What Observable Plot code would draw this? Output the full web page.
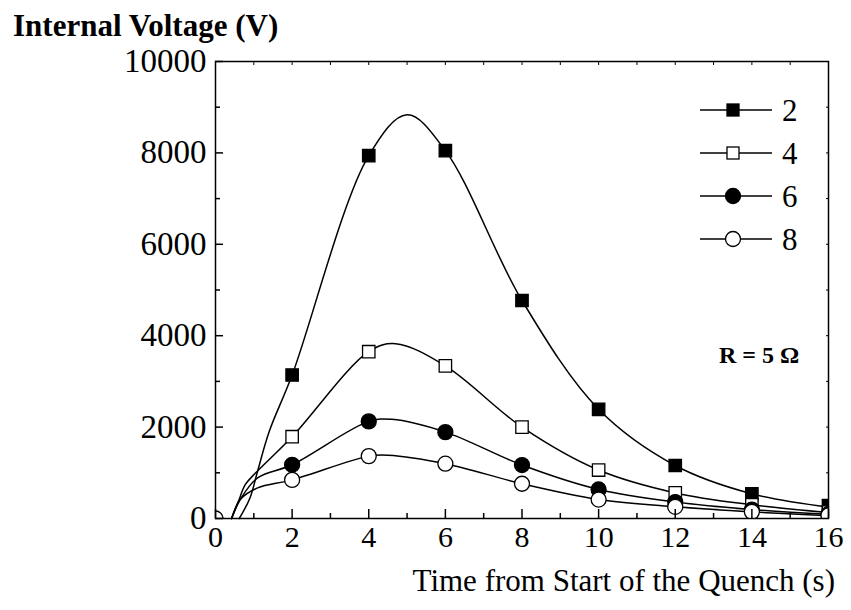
<!DOCTYPE html>
<html><head><meta charset="utf-8">
<script src="https://cdn.jsdelivr.net/npm/d3@7"></script>
<script src="https://cdn.jsdelivr.net/npm/@observablehq/plot@0.6"></script>
<style>body{margin:0;background:#fff} svg{display:block}</style>
</head><body><div id="chart"></div>
<script>
// Series names (legend)
const seriesNames = ["2", "4", "6", "8"];
// Marker data (time in s, internal voltage in V)
const times = [0, 2, 4, 6, 8, 10, 12, 14, 16];
const v2 = [null, 3140, 7940, 8050, 4770, 2390, 1160, 540, 280];
const v4 = [null, 1790, 3650, 3340, 2000, 1060, 560, 300, 140];
const v6 = [null, 1175, 2125, 1890, 1170, 635, 360, 195, 100];
const v8 = [0, 845, 1365, 1200, 760, 415, 255, 145, 70];
// Fitted curve points
const c2t = [0.62, 0.9, 1.1, 1.4, 2, 4, 5, 6, 8, 10, 12, 14, 16];
const c2v = [0, 450, 1040, 1900, 3140, 7940, 8835, 8050, 4770, 2390, 1160, 540, 250];
const c4t = [0.42, 0.6, 0.78, 1.05, 2, 4, 4.7, 6, 8, 10, 12, 14, 16];
const c4v = [0, 380, 745, 1000, 1790, 3650, 3825, 3340, 2000, 1060, 560, 300, 130];
const c6t = [0.42, 0.65, 1.1, 2, 4, 4.6, 6, 8, 10, 12, 14, 16];
const c6v = [0, 420, 890, 1175, 2125, 2170, 1890, 1170, 635, 360, 195, 90];
const c8t = [0.42, 0.65, 1.1, 2, 4, 4.5, 6, 8, 10, 12, 14, 16];
const c8v = [0, 420, 670, 845, 1365, 1385, 1200, 760, 415, 255, 145, 60];
// Axis ticks
const xTicks = [0, 2, 4, 6, 8, 10, 12, 14, 16];
const xMinor = [1, 3, 5, 7, 9, 11, 13, 15];
const xTop = d3.range(0, 17);
const yTicks = [0, 2000, 4000, 6000, 8000, 10000];
const yMinor = [1000, 3000, 5000, 7000, 9000];
const yRight = d3.range(0, 10001, 1000);

const markerVals = [v2, v4, v6, v8];
const curveT = [c2t, c4t, c6t, c8t];
const curveV = [c2v, c4v, c6v, c8v];
const symbols = ["square", "square", "circle", "circle"];
const fills = ["black", "white", "black", "white"];

const marks = [];
seriesNames.forEach((name, i) => {
  const curve = curveT[i].map((t, j) => ({t, v: curveV[i][j]}));
  const pts = times.map((t, j) => ({t, v: markerVals[i][j]})).filter(d => d.v != null);
  marks.push(Plot.line(curve, {x: "t", y: "v", curve: "catmull-rom", stroke: "black", strokeWidth: 1.5}));
  marks.push(Plot.dot(pts, {x: "t", y: "v", symbol: symbols[i], r: symbols[i] === "square" ? 7 : 7.5,
    fill: fills[i], stroke: "black", strokeWidth: 1.3, clip: true}));
});

const noText = () => "";
const chart = Plot.plot({
  width: 851, height: 610,
  marginLeft: 215, marginRight: 23, marginTop: 61, marginBottom: 92,
  style: {fontFamily: "Liberation Serif, Times New Roman, serif", background: "white"},
  x: {domain: [0, 16]},
  y: {domain: [0, 10000]},
  marks: [
    ...marks,
    Plot.frame({stroke: "black", strokeWidth: 1.5}),
    Plot.axisX({ticks: xTicks, tickSize: 0, tickPadding: 7, fontSize: 30, label: null, tickFormat: d => String(d)}),
    Plot.axisX({ticks: xTicks, tickSize: -9, tickFormat: noText, label: null, strokeWidth: 1.5}),
    Plot.axisX({ticks: xMinor, tickSize: -5, tickFormat: noText, label: null, strokeWidth: 1.5}),
    Plot.axisX({anchor: "top", ticks: xTop, tickSize: -3, tickFormat: noText, label: null}),
    Plot.axisY({ticks: yTicks, tickSize: 0, tickPadding: 9, fontSize: 33, label: null, tickFormat: d => String(d)}),
    Plot.axisY({ticks: yTicks, tickSize: -8, tickFormat: noText, label: null, strokeWidth: 1.5}),
    Plot.axisY({ticks: yMinor, tickSize: -5, tickFormat: noText, label: null, strokeWidth: 1.5}),
    Plot.axisY({anchor: "right", ticks: yRight, tickSize: -3, tickFormat: noText, label: null})
  ]
});
document.getElementById("chart").appendChild(chart);

// Titles, legend and annotation
const svg = d3.select(chart);
svg.append("text").attr("x", 13).attr("y", 36).attr("font-size", 31).attr("font-weight", "bold")
  .attr("text-anchor", "start").attr("fill", "black").text("Internal Voltage (V)");
svg.append("text").attr("x", 835).attr("y", 591).attr("font-size", 31).attr("text-anchor", "end")
  .attr("fill", "black").text("Time from Start of the Quench (s)");
svg.append("text").attr("x", 759).attr("y", 363).attr("font-size", 24).attr("font-weight", "bold")
  .attr("text-anchor", "middle").attr("fill", "black").text("R = 5 Ω");

const legY = [110, 153, 196, 239];
seriesNames.forEach((name, i) => {
  const g = svg.append("g");
  g.append("line").attr("x1", 700).attr("x2", 772).attr("y1", legY[i]).attr("y2", legY[i])
    .attr("stroke", "black").attr("stroke-width", 1.5);
  if (symbols[i] === "square") {
    g.append("rect").attr("x", 733 - 6).attr("y", legY[i] - 6).attr("width", 12).attr("height", 12)
      .attr("fill", fills[i]).attr("stroke", "black").attr("stroke-width", 1.3);
  } else {
    g.append("circle").attr("cx", 733).attr("cy", legY[i]).attr("r", 7.5)
      .attr("fill", fills[i]).attr("stroke", "black").attr("stroke-width", 1.3);
  }
  g.append("text").attr("x", 782).attr("y", legY[i] + 11).attr("font-size", 31)
    .attr("text-anchor", "start").attr("fill", "black").text(name);
});
</script>
</body></html>
